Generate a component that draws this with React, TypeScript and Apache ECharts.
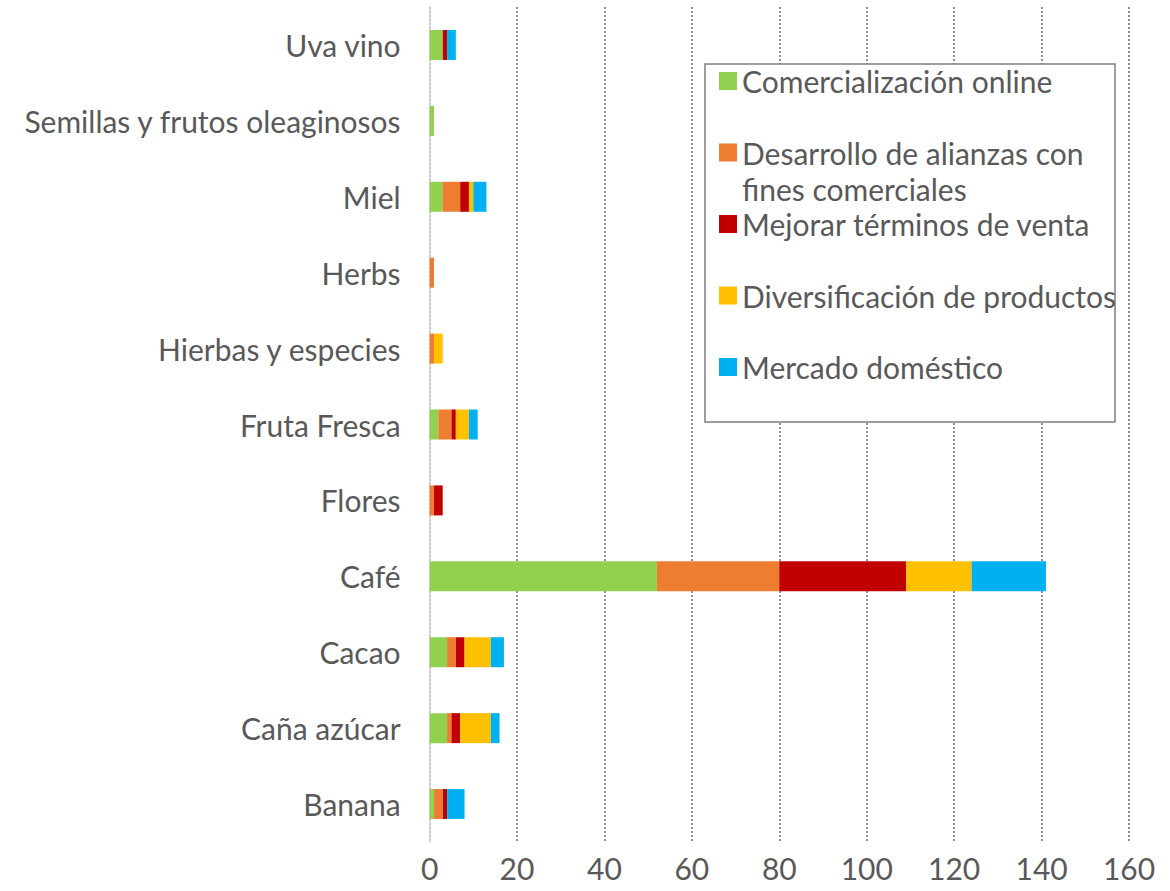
import React, { useEffect, useRef } from "react";
import * as echarts from "echarts";

const categories = [
  "Banana",
  "Caña azúcar",
  "Cacao",
  "Café",
  "Flores",
  "Fruta Fresca",
  "Hierbas y especies",
  "Herbs",
  "Miel",
  "Semillas y frutos oleaginosos",
  "Uva vino",
];

const seriesNames = [
  "Comercialización online",
  "Desarrollo de alianzas con fines comerciales",
  "Mejorar términos de venta",
  "Diversificación de productos",
  "Mercado doméstico",
];

const comercializacionOnline = [1, 4, 4, 52, 0, 2, 0, 0, 3, 1, 3];
const desarrolloAlianzas = [2, 1, 2, 28, 1, 3, 1, 1, 4, 0, 0];
const mejorarTerminos = [1, 2, 2, 29, 2, 1, 0, 0, 2, 0, 1];
const diversificacion = [0, 7, 6, 15, 0, 3, 2, 0, 1, 0, 0];
const mercadoDomestico = [4, 2, 3, 17, 0, 2, 0, 0, 3, 0, 2];

const xTicks = [0, 20, 40, 60, 80, 100, 120, 140, 160];

const colors = ["#92D050", "#ED7D31", "#C00000", "#FFC000", "#00B0F0"];

const FONT = "Lato";
const TEXT = "#595959";
const FS = 30;

export default function App() {
  const ref = useRef<HTMLDivElement>(null);

  useEffect(() => {
    document.body.style.margin = "0";
    const chart = echarts.init(ref.current!, undefined, { renderer: "svg" });
    const values = [
      comercializacionOnline,
      desarrolloAlianzas,
      mejorarTerminos,
      diversificacion,
      mercadoDomestico,
    ];
    chart.setOption({
      animation: false,
      textStyle: { fontFamily: FONT },
      grid: { left: 429.6, right: 41, top: 7, bottom: 49, containLabel: false },
      xAxis: {
        type: "value",
        min: xTicks[0],
        max: xTicks[xTicks.length - 1],
        interval: 20,
        axisLine: { show: false },
        axisTick: { show: false },
        axisLabel: { color: TEXT, fontSize: FS, fontFamily: FONT, margin: 11 },
        splitLine: {
          show: true,
          lineStyle: { color: "#8f8f8f", width: 2, type: [2, 2] },
        },
      },
      yAxis: {
        type: "category",
        data: categories,
        axisLine: { show: true, lineStyle: { color: "#d9d9d9", width: 1.5 } },
        axisTick: { show: false },
        axisLabel: { color: TEXT, fontSize: FS, fontFamily: FONT, margin: 29 },
      },
      legend: {
        orient: "vertical",
        left: 719,
        top: 66,
        padding: 0,
        itemWidth: 18,
        itemHeight: 18,
        itemGap: 41.5,
        icon: "rect",
        data: seriesNames,
        formatter: (name: string) =>
          name === seriesNames[1] ? "Desarrollo de alianzas con" : name,
        textStyle: { color: TEXT, fontSize: FS, fontFamily: FONT },
        z: 10,
      },
      graphic: [
        {
          type: "rect",
          z: 5,
          shape: { x: 705, y: 64, width: 410, height: 358 },
          style: { fill: "#ffffff", stroke: "#7f7f7f", lineWidth: 1.5 },
        },
        {
          type: "text",
          z: 11,
          x: 742,
          y: 189,
          style: {
            text: "fines comerciales",
            fill: TEXT,
            font: `${FS}px ${FONT}`,
            verticalAlign: "middle",
          },
        },
      ],
      series: seriesNames.map((name, i) => ({
        name,
        type: "bar",
        stack: "total",
        barWidth: 30,
        itemStyle: { color: colors[i] },
        data: values[i],
      })),
    });
    return () => chart.dispose();
  }, []);

  return <div ref={ref} style={{ width: 1170, height: 891 }} />;
}
